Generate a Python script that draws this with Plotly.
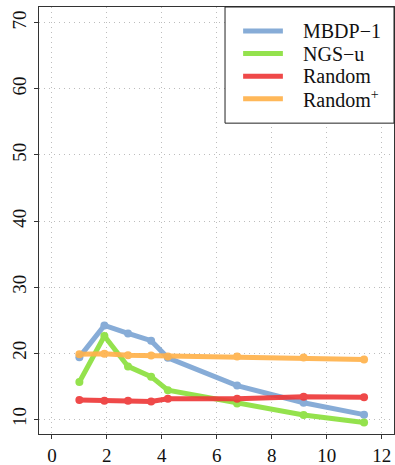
import plotly.graph_objects as go

x_vals = [1.0, 1.91, 2.77, 3.61, 4.22, 6.74, 9.16, 11.36]
mbdp1 = [19.4, 24.2, 23.0, 21.9, 19.3, 15.1, 12.5, 10.7]
ngs_u = [15.65, 22.6, 18.0, 16.45, 14.4, 12.4, 10.65, 9.5]
random_ = [12.9, 12.8, 12.8, 12.7, 13.1, 13.1, 13.4, 13.35]
random_plus = [19.85, 19.9, 19.7, 19.65, 19.5, 19.5, 19.35, 19.05]

names = ["MBDP\u22121", "NGS\u2212u", "Random", "Random<sup>+</sup>"]
series = [mbdp1, ngs_u, random_, random_plus]
colors = ["rgb(125,166,212)", "rgb(140,224,62)", "rgb(238,58,58)", "rgb(255,178,76)"]

x_ticks = [0, 2, 4, 6, 8, 10, 12]
y_ticks = [10, 20, 30, 40, 50, 60, 70]

fig = go.Figure()
for name, ys, c in zip(names, series, colors):
    fig.add_trace(go.Scatter(
        x=x_vals, y=ys, name=name, mode="lines+markers",
        line=dict(color=c, width=5), marker=dict(color=c, size=8),
        opacity=0.92, showlegend=False,
    ))

serif = "Liberation Serif, Times New Roman, serif"
axis_common = dict(
    showline=True, mirror=True, linecolor="#333", linewidth=1,
    ticks="outside", ticklen=4, tickcolor="#333",
    showgrid=True, gridcolor="#bdbdbd", griddash="1px,4px", gridwidth=1,
    zeroline=False, automargin=False,
    tickfont=dict(family=serif, size=19, color="#111"),
)
fig.update_xaxes(range=[-0.47, 12.45], tickvals=x_ticks, **axis_common)
fig.update_yaxes(range=[7.77, 72.4], tickvals=y_ticks, tickangle=-90, **axis_common)

# legend box drawn in paper coordinates (lines only, like the reference)
fig.add_shape(type="rect", xref="paper", yref="paper",
              x0=0.524, x1=1.0, y0=0.728, y1=1.0,
              line=dict(color="#222", width=1), fillcolor="white", layer="above")
entry_y = [0.944, 0.891, 0.838, 0.785]
for name, c, ey in zip(names, colors, entry_y):
    fig.add_shape(type="line", xref="paper", yref="paper",
                  x0=0.575, x1=0.687, y0=ey, y1=ey,
                  line=dict(color=c, width=5), opacity=0.92, layer="above")
    fig.add_annotation(xref="paper", yref="paper", x=0.738, y=ey,
                       xanchor="left", yanchor="middle", showarrow=False,
                       text=name, font=dict(family=serif, size=20, color="#111"))

fig.update_layout(
    width=395, height=465,
    margin=dict(l=39, r=1, t=7, b=31),
    plot_bgcolor="white", paper_bgcolor="white",
    showlegend=False,
)

fig.write_html("out.html")
